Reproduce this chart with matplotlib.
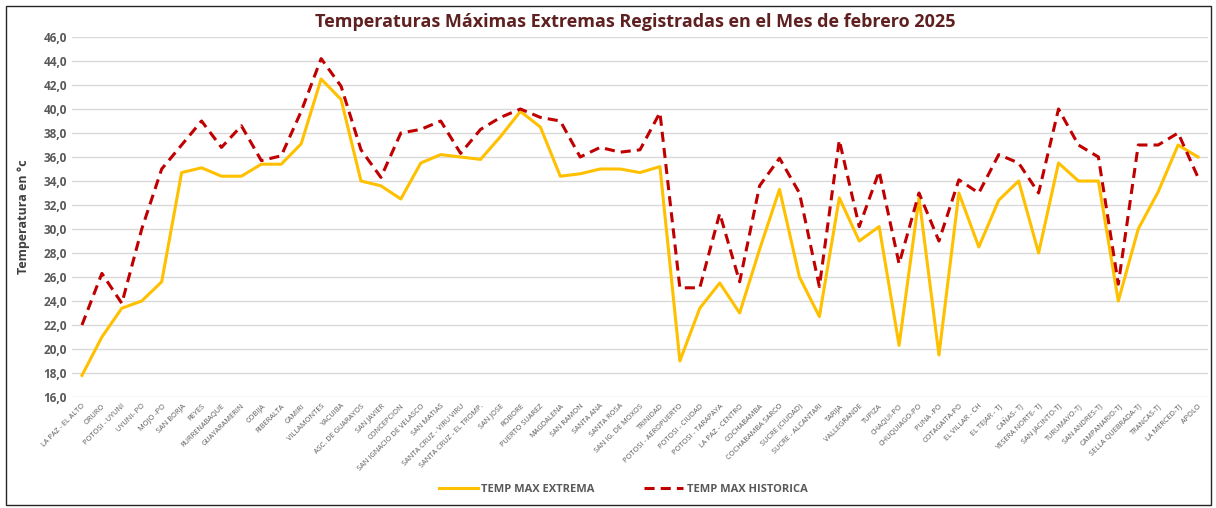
import matplotlib.pyplot as plt
from matplotlib.patches import Rectangle
from matplotlib.ticker import FuncFormatter

estaciones = ["LA PAZ - EL ALTO", "ORURO", "POTOSI - UYUNI", "UYUNI- PO", "MOJO -PO",
              "SAN BORJA", "REYES", "RURRENABAQUE", "GUAYARAMERIN", "COBIJA",
              "RIBERALTA", "CAMIRI", "VILLAMONTES", "YACUIBA", "ASC. DE GUARAYOS",
              "SAN JAVIER", "CONCEPCION", "SAN IGNACIO DE VELASCO", "SAN MATIAS",
              "SANTA CRUZ - VIRU VIRU", "SANTA CRUZ - EL TROMP.", "SAN JOSE", "ROBORE",
              "PUERTO SUAREZ", "MAGDALENA", "SAN RAMON", "SANTA ANA", "SANTA ROSA",
              "SAN IG. DE MOXOS", "TRINIDAD", "POTOSI - AEROPUERTO", "POTOSI - CIUDAD",
              "POTOSI - TARAPAYA", "LA PAZ - CENTRO", "COCHABAMBA", "COCHABAMBA SARCO",
              "SUCRE (CIUDAD)", "SUCRE - ALCANTARI", "TARIJA", "VALLEGRANDE", "TUPIZA",
              "CHAQUI-PO", "CHUQUIAGO-PO", "PUNA -PO", "COTAGAITA-PO", "EL VILLAR - CH",
              "EL TEJAR - TJ", "CAÑAS- TJ", "YESERA NORTE- TJ", "SAN JACINTO-TJ",
              "TURUMAYO-TJ", "SAN ANDRES-TJ", "CAMPANARIO-TJ", "SELLA QUEBRADA-TJ",
              "TRANCAS-TJ", "LA MERCED-TJ", "APOLO"]

temp_extrema = [17.8, 21.0, 23.4, 24.0, 25.6, 34.7, 35.1, 34.4, 34.4, 35.4,
                35.4, 37.1, 42.5, 40.8, 34.0, 33.6, 32.5, 35.5, 36.2, 36.0,
                35.8, 37.7, 39.8, 38.5, 34.4, 34.6, 35.0, 35.0, 34.7, 35.2,
                19.0, 23.4, 25.5, 23.0, 28.3, 33.3, 26.0, 22.7, 32.6, 29.0,
                30.2, 20.3, 32.6, 19.5, 33.0, 28.5, 32.4, 34.0, 28.0, 35.5,
                34.0, 34.0, 24.0, 30.0, 33.1, 37.0, 36.0]

temp_historica = [22.0, 26.3, 23.8, 30.0, 35.0, 37.0, 39.0, 36.8, 38.6, 35.7,
                  36.1, 39.8, 44.2, 41.9, 36.6, 34.3, 38.0, 38.3, 39.0, 36.3,
                  38.3, 39.3, 40.0, 39.3, 39.0, 36.0, 36.8, 36.4, 36.6, 39.7,
                  25.1, 25.1, 31.3, 25.6, 33.6, 35.9, 33.0, 25.2, 37.4, 30.2,
                  34.8, 27.1, 33.0, 29.0, 34.1, 33.0, 36.2, 35.5, 33.0, 40.0,
                  37.0, 36.0, 25.4, 37.0, 37.0, 38.0, 34.3]

plt.rcParams['font.family'] = ['Open Sans', 'DejaVu Sans']

fig = plt.figure(figsize=(12.16, 5.08), dpi=100)
ax = fig.add_axes([72 / 1216, 1 - 397 / 508, (1208 - 72) / 1216, 360 / 508])

x = range(len(estaciones))
ax.plot(x, temp_extrema, color='#FFC000', lw=2.2, label='TEMP MAX EXTREMA')
ax.plot(x, temp_historica, color='#C00000', lw=2.2, dashes=(3.3, 2.0),
        label='TEMP MAX HISTORICA')

ax.set_xlim(-0.5, len(estaciones) - 0.5)
ax.set_ylim(16, 46)
ax.set_yticks(range(16, 47, 2))
ax.yaxis.set_major_formatter(FuncFormatter(lambda v, p: f"{v:.1f}".replace('.', ',')))
ax.grid(axis='y', color='#D9D9D9', lw=1)
ax.set_axisbelow(True)
for s in ax.spines.values():
    s.set_visible(False)
ax.tick_params(length=0)
for lab in ax.get_yticklabels():
    lab.set_fontweight('bold')
    lab.set_color('#595959')
    lab.set_fontsize(8.5)

ax.set_xticks(list(x))
ax.set_xticklabels(estaciones, rotation=45, ha='right', rotation_mode='anchor',
                   fontsize=5.3, color='#595959')
ax.tick_params(axis='x', pad=4)

ax.set_ylabel('Temperatura en °c', fontsize=9, fontweight='bold', color='#404040',
              labelpad=10)

fig.text(0.522, 1 - 22 / 508, 'Temperaturas Máximas Extremas Registradas en el Mes de febrero 2025',
         ha='center', va='center', fontsize=13, fontweight='bold', color='#5E2020')

ax.legend(loc='center', bbox_to_anchor=(623 / 1216, 1 - 489 / 508), bbox_transform=fig.transFigure,
          ncol=2, frameon=False, handlelength=3.5, columnspacing=4.5, handletextpad=0.3,
          labelcolor='#595959', prop={'weight': 'bold', 'size': 8})

fig.patches.append(Rectangle((6 / 1216, 1 - 505 / 508), 1205 / 1216, 499 / 508,
                             transform=fig.transFigure, fill=False, ec='#262626', lw=1))

fig.savefig('out.png', dpi=100)
